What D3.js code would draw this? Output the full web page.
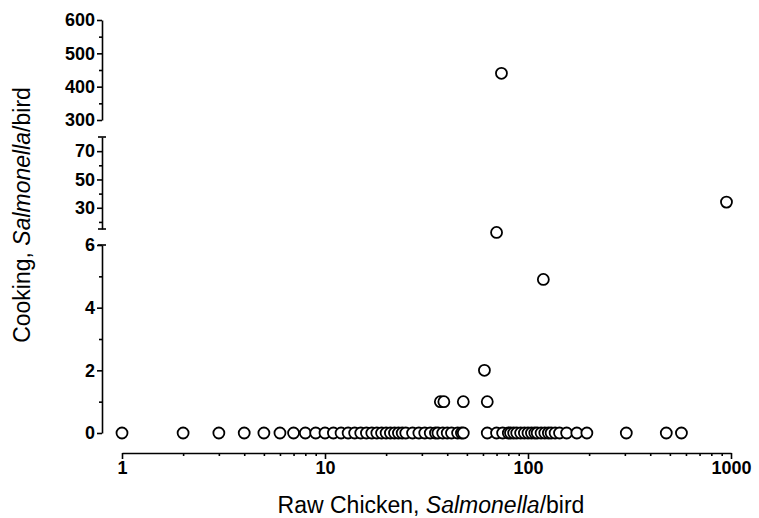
<!DOCTYPE html>
<html>
<head>
<meta charset="utf-8">
<script src="https://cdn.jsdelivr.net/npm/d3@7"></script>
<style>
  body { margin: 0; background: #fff; }
  svg { display: block; }
  .axis path, .axis line { stroke: #000; stroke-width: 1.6; }
  .axis text { font-family: "Liberation Sans", Arial, sans-serif; font-size: 18px; font-weight: bold; fill: #000; }
  .title { font-family: "Liberation Sans", Arial, sans-serif; font-size: 23px; fill: #000; }
</style>
</head>
<body>
<svg id="chart"></svg>
<script>
// raw chicken counts for birds with no Salmonella after cooking
const rawZero = [1, 2, 3, 4, 5, 6, 7, 8, 9, 10, 11, 12, 13, 14, 15, 16, 17, 18, 19, 20,
  21, 22, 23, 24, 25, 27, 29, 31, 33, 35, 36, 38, 40, 42, 45, 47, 48,
  63, 70, 75, 80, 82, 85, 88, 92, 96, 100, 104, 108, 111, 116, 121, 126, 130, 136,
  143, 155, 174, 195, 305, 480, 570];

// birds with Salmonella surviving cooking
const rawPositive = [74, 950, 70, 119, 61, 37, 38.5, 48, 63];
const cookPositive = [440, 34, 6.4, 4.9, 2, 1, 1, 1, 1];

// axis tick labels
const xMajor = [1, 10, 100, 1000];
const yLowTicks = [0, 2, 4, 6];
const yMidTicks = [30, 50, 70];
const yTopTicks = [300, 400, 500, 600];

const width = 759, height = 518;
const svg = d3.select("#chart").attr("width", width).attr("height", height);

const x = d3.scaleLog().domain([1, 1000]).range([122, 731]);

// broken y axis: three stacked linear pieces
const yLow = d3.scaleLinear().domain([0, 6]).range([433, 245]);
const yMid = d3.scaleLinear().domain([15, 80]).range([229, 137]);
const yTop = d3.scaleLinear().domain([300, 600]).range([120, 20]);

const yPos = v => v >= 300 ? yTop(v) : (v >= 10 ? yMid(v) : yLow(v));

const axisX = 102;
const axisY = 453;

// x axis
const xMinor = [];
for (let d = 1; d < 1000; d *= 10) {
  for (let k = 2; k <= 9; k++) xMinor.push(d * k);
}

svg.append("g")
  .attr("class", "axis")
  .attr("transform", `translate(0,${axisY})`)
  .call(d3.axisBottom(x).tickValues(xMinor).tickSize(3).tickFormat("").tickSizeOuter(0))
  .select(".domain").remove();

svg.append("g")
  .attr("class", "axis")
  .attr("transform", `translate(0,${axisY})`)
  .call(d3.axisBottom(x).tickValues(xMajor).tickSize(6).tickPadding(2)
    .tickFormat(d3.format("d")).tickSizeOuter(0));

// y axis pieces
function yPiece(scale, major, minor) {
  svg.append("g")
    .attr("class", "axis")
    .attr("transform", `translate(${axisX},0)`)
    .call(d3.axisLeft(scale).tickValues(minor).tickSize(3).tickFormat("").tickSizeOuter(0))
    .select(".domain").remove();

  svg.append("g")
    .attr("class", "axis")
    .attr("transform", `translate(${axisX},0)`)
    .call(d3.axisLeft(scale).tickValues(major).tickSize(5).tickPadding(2)
      .tickFormat(d3.format("d")).tickSizeOuter(0));
}

yPiece(yLow, yLowTicks, [1, 3, 5]);
yPiece(yMid, yMidTicks, [20, 40, 60]);
yPiece(yTop, yTopTicks, [350, 450, 550]);

// caps at the breaks
const caps = [yLow(6), yMid(15), yMid(80)];
svg.selectAll(".cap")
  .data(caps)
  .enter()
  .append("line")
  .attr("class", "cap")
  .attr("x1", axisX - 4)
  .attr("x2", axisX + 4)
  .attr("y1", d => d)
  .attr("y2", d => d)
  .attr("stroke", "#000")
  .attr("stroke-width", 1.6);

// points
const points = rawZero.map(r => ({ raw: r, cook: 0 }))
  .concat(rawPositive.map((r, i) => ({ raw: r, cook: cookPositive[i] })))
  .sort((a, b) => a.raw - b.raw);

svg.append("g")
  .selectAll("circle")
  .data(points)
  .enter()
  .append("circle")
  .attr("cx", d => x(d.raw))
  .attr("cy", d => yPos(d.cook))
  .attr("r", 5.5)
  .attr("fill", "#fff")
  .attr("stroke", "#000")
  .attr("stroke-width", 1.8);

// titles
const xt = svg.append("text")
  .attr("class", "title")
  .attr("x", 431)
  .attr("y", 513)
  .attr("text-anchor", "middle");
xt.append("tspan").text("Raw Chicken, ");
xt.append("tspan").attr("font-style", "italic").text("Salmonella");
xt.append("tspan").text("/bird");

const yt = svg.append("text")
  .attr("class", "title")
  .attr("transform", "translate(30,215) rotate(-90)")
  .attr("text-anchor", "middle");
yt.append("tspan").text("Cooking, ");
yt.append("tspan").attr("font-style", "italic").text("Salmonella");
yt.append("tspan").text("/bird");
</script>
</body>
</html>
